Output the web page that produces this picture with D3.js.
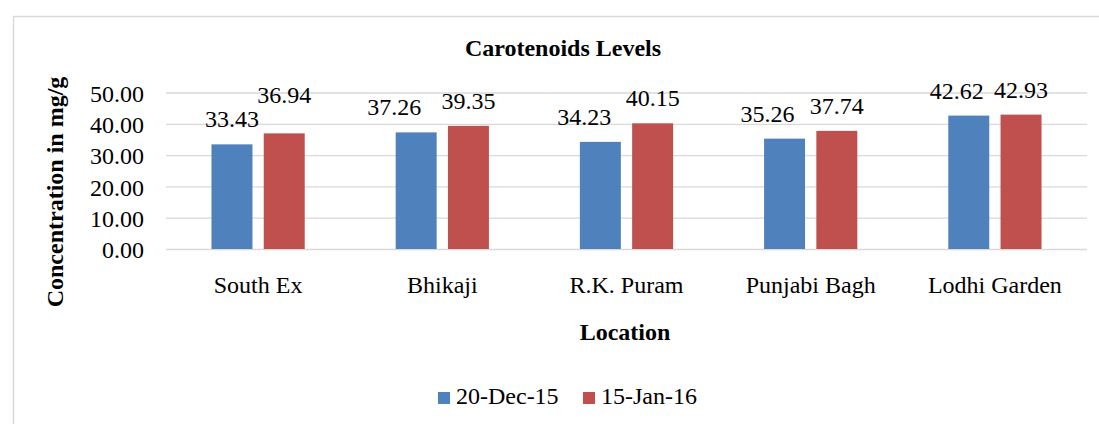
<!DOCTYPE html>
<html>
<head>
<meta charset="utf-8">
<script src="https://cdn.jsdelivr.net/npm/d3@7"></script>
<style>
    html, body { margin: 0; padding: 0; background: #ffffff; }
    svg { display: block; }
    text { font-family: "Liberation Serif", "Times New Roman", serif; fill: #000000; }
</style>
</head>
<body>
<div class="chart"></div>
<script>
// chart data
var locations = ["South Ex", "Bhikaji", "R.K. Puram", "Punjabi Bagh", "Lodhi Garden"];
var seriesNames = ["20-Dec-15", "15-Jan-16"];
var dec15 = [33.43, 37.26, 34.23, 35.26, 42.62];
var jan16 = [36.94, 39.35, 40.15, 37.74, 42.93];
var yTicks = [0, 10, 20, 30, 40, 50];

var width = 1099, height = 424;
var colors = ["#4F81BD", "#C0504D"];

// label drags done by hand in the original (offsets from the default spot)
var labelNudge = {
    "South Ex|1": [0, -13],
    "Bhikaji|0": [-22, 0],
    "R.K. Puram|0": [-16, 0],
    "Punjabi Bagh|0": [-17, 0],
    "Lodhi Garden|0": [-12, 0]
};

var rows = locations.map(function(loc, i) {
    return {loc: loc, values: [dec15[i], jan16[i]]};
});

var svg = d3.select(".chart")
    .append("svg")
    .attr("width", width)
    .attr("height", height);

// outer chart frame (runs off the right/bottom like the original)
svg.append("rect")
    .attr("x", 13.5)
    .attr("y", 16.5)
    .attr("width", 1120)
    .attr("height", 440)
    .attr("fill", "none")
    .attr("stroke", "#D9D9D9")
    .attr("stroke-width", 1.5);

var x0 = d3.scaleBand()
    .domain(locations)
    .range([166, 1087])
    .padding(0);

var x1 = d3.scaleBand()
    .domain([0, 1])
    .range([0, x0.bandwidth()])
    .paddingInner(0.216)
    .paddingOuter(0.87);

var y = d3.scaleLinear()
    .domain([0, 50])
    .range([249, 92.5]);

// gridlines + y labels
var yAxis = svg.append("g")
    .attr("transform", "translate(166,0)")
    .call(d3.axisLeft(y)
        .tickValues(yTicks)
        .tickSize(-(1087 - 166))
        .tickPadding(22)
        .tickFormat(d3.format(".2f")));

yAxis.select("path.domain").remove();
yAxis.selectAll("line")
    .attr("stroke", "#D9D9D9")
    .attr("stroke-width", 1.3);
yAxis.selectAll("text")
    .attr("dy", "0.36em")
    .style("font-size", "24px")
    .style("font-family", "'Liberation Serif', serif")
    .attr("fill", "#000");

// bars
var groups = svg.selectAll("g.grp")
    .data(rows)
    .enter()
    .append("g")
    .attr("class", "grp")
    .attr("transform", function(d) { return "translate(" + x0(d.loc) + ",0)"; });

groups.selectAll("rect")
    .data(function(d) { return d.values.map(function(v, k) { return {loc: d.loc, k: k, v: v}; }); })
    .enter()
    .append("rect")
    .attr("x", function(d) { return x1(d.k); })
    .attr("y", function(d) { return y(d.v); })
    .attr("width", x1.bandwidth())
    .attr("height", function(d) { return y(0) - y(d.v); })
    .attr("fill", function(d) { return colors[d.k]; });

// value labels
groups.selectAll("text.val")
    .data(function(d) { return d.values.map(function(v, k) { return {loc: d.loc, k: k, v: v}; }); })
    .enter()
    .append("text")
    .attr("class", "val")
    .attr("text-anchor", "middle")
    .attr("x", function(d) {
        var n = labelNudge[d.loc + "|" + d.k] || [0, 0];
        return x1(d.k) + x1.bandwidth() / 2 + n[0];
    })
    .attr("y", function(d) {
        var n = labelNudge[d.loc + "|" + d.k] || [0, 0];
        return y(d.v) - 17 + n[1];
    })
    .style("font-size", "24px")
    .text(function(d) { return d3.format(".2f")(d.v); });

// category labels
var xAxis = svg.append("g")
    .attr("transform", "translate(0,249)")
    .call(d3.axisBottom(x0).tickSize(0).tickPadding(0));
xAxis.select("path.domain").remove();
xAxis.selectAll("text")
    .attr("y", 44)
    .attr("dy", 0)
    .style("font-size", "24px")
    .style("font-family", "'Liberation Serif', serif")
    .attr("fill", "#000");

// titles
svg.append("text")
    .attr("x", 563)
    .attr("y", 56)
    .attr("text-anchor", "middle")
    .style("font-size", "24px")
    .style("font-weight", "bold")
    .text("Carotenoids Levels");

svg.append("text")
    .attr("x", 625)
    .attr("y", 340)
    .attr("text-anchor", "middle")
    .style("font-size", "24px")
    .style("font-weight", "bold")
    .text("Location");

svg.append("text")
    .attr("transform", "translate(63,192) rotate(-90)")
    .attr("text-anchor", "middle")
    .style("font-size", "24px")
    .style("font-weight", "bold")
    .text("Concentration in mg/g");

// legend
var legendX = [438, 583];
var legend = svg.selectAll("g.leg")
    .data(seriesNames)
    .enter()
    .append("g")
    .attr("class", "leg")
    .attr("transform", function(d, i) { return "translate(" + legendX[i] + ",392)"; });

legend.append("rect")
    .attr("width", 12)
    .attr("height", 12)
    .attr("fill", function(d, i) { return colors[i]; });

legend.append("text")
    .attr("x", 18)
    .attr("y", 11.5)
    .style("font-size", "24px")
    .text(function(d) { return d; });
</script>
</body>
</html>
